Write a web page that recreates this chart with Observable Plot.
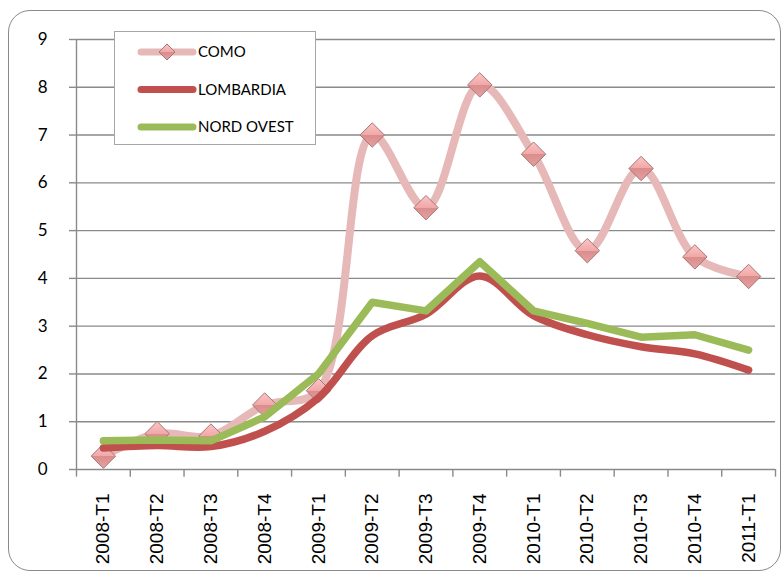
<!DOCTYPE html>
<html>
<head>
<meta charset="utf-8">
<script src="https://cdn.jsdelivr.net/npm/d3@7"></script>
<script src="https://cdn.jsdelivr.net/npm/@observablehq/plot@0.6"></script>
<style>
  html, body { margin: 0; padding: 0; background: #fff; overflow: hidden; }
  #wrap { position: relative; width: 784px; height: 573px; }
  #frame { position: absolute; left: 8px; top: 10px; width: 773px; height: 561px;
           border: 1.5px solid #8a8a8a; border-radius: 22px; box-sizing: border-box; pointer-events: none; }
  #chart { position: absolute; left: 0; top: 0; }
  #chart g[aria-label="x-axis tick label"] text { font-family: 'Liberation Sans', Arial, sans-serif; }
  #legend { position: absolute; left: 114px; top: 31px; width: 202px; height: 114px;
            background: #fff; border: 1px solid #a6a6a6; box-sizing: border-box; }
</style>
</head>
<body>
<svg width="0" height="0" style="position:absolute">
  <defs>
    <linearGradient id="dg" x1="0" y1="0" x2="0" y2="1">
      <stop offset="0" stop-color="#fbc6c6"/>
      <stop offset="0.5" stop-color="#f1a7a7"/>
      <stop offset="0.5" stop-color="#d98d8d"/>
      <stop offset="1" stop-color="#e8a0a0"/>
    </linearGradient>
  </defs>
</svg>
<div id="wrap">
  <div id="chart"></div>
  <div id="frame"></div>
  <div id="legend"></div>
</div>
<script>
const categories = ["2008-T1","2008-T2","2008-T3","2008-T4","2009-T1","2009-T2","2009-T3","2009-T4","2010-T1","2010-T2","2010-T3","2010-T4","2011-T1"];
const como      = [0.28, 0.75, 0.7, 1.35, 1.65, 7.0, 5.48, 8.05, 6.6, 4.58, 6.3, 4.45, 4.04];
const lombardia = [0.45, 0.5, 0.48, 0.8, 1.5, 2.8, 3.25, 4.05, 3.22, 2.82, 2.57, 2.42, 2.08];
const nordOvest = [0.6, 0.62, 0.6, 1.1, 2.0, 3.5, 3.32, 4.35, 3.32, 3.06, 2.77, 2.82, 2.5];
const yTicks = [0,1,2,3,4,5,6,7,8,9];
const seriesNames = ["COMO","LOMBARDIA","NORD OVEST"];

const idx = categories.map((_, i) => i);
const bounds = d3.range(categories.length + 1).map(i => i - 0.5);
const rowsComo = idx.map(i => ({i, v: como[i]}));
const rowsLomb = idx.map(i => ({i, v: lombardia[i]}));
const rowsNord = idx.map(i => ({i, v: nordOvest[i]}));

const grid = "#8a8a8a";
const plot = Plot.plot({
  width: 784,
  height: 573,
  marginLeft: 76,
  marginRight: 9,
  marginTop: 39,
  marginBottom: 104,
  style: {fontFamily: "Lato, 'Liberation Sans', sans-serif", background: "transparent", overflow: "visible"},
  x: {type: "linear", domain: [-0.5, categories.length - 0.5]},
  y: {type: "linear", domain: [0, 9]},
  marks: [
    Plot.gridY({ticks: yTicks, stroke: grid, strokeOpacity: 1, strokeWidth: 1.4}),
    Plot.ruleX([-0.5], {y1: 0, y2: 9, stroke: grid, strokeWidth: 1.4}),
    Plot.ruleX(bounds, {y1: 0, y2: -0.16, stroke: grid, strokeWidth: 1.4}),
    Plot.axisY({ticks: yTicks, tickSize: 7, tickPadding: 22, fontSize: 17, stroke: grid, strokeWidth: 1.4, color: "#000", label: null}),
    Plot.axisX({ticks: idx, tickFormat: i => categories[i], tickRotate: -90, tickSize: 0, tickPadding: 24,
                fontSize: 19, label: null, color: "#000"}),
    Plot.line(rowsComo, {x: "i", y: "v", stroke: "#e6b9b8", strokeWidth: 8, curve: "catmull-rom", strokeLinecap: "round", strokeLinejoin: "round"}),
    Plot.dot(rowsComo, {x: "i", y: "v", symbol: "diamond2", r: 11, fill: "url(#dg)", stroke: "#a87474", strokeWidth: 1}),
    Plot.line(rowsLomb, {x: "i", y: "v", stroke: "#c0504d", strokeWidth: 7.5, curve: "catmull-rom", strokeLinecap: "round", strokeLinejoin: "round"}),
    Plot.line(rowsNord, {x: "i", y: "v", stroke: "#9bbb59", strokeWidth: 7.5, strokeLinecap: "round", strokeLinejoin: "round"})
  ]
});
document.getElementById("chart").appendChild(plot);

// legend
const lg = d3.select("#legend").append("svg").attr("width", 200).attr("height", 112)
  .style("font-family", "Lato, sans-serif").style("font-size", "15px");
const legendItems = [
  {name: seriesNames[0], color: "#e6b9b8", marker: true},
  {name: seriesNames[1], color: "#c0504d", marker: false},
  {name: seriesNames[2], color: "#9bbb59", marker: false}
];
legendItems.forEach((d, k) => {
  const y = 20 + k * 37.5;
  lg.append("line").attr("x1", 26).attr("x2", 78).attr("y1", y).attr("y2", y)
    .attr("stroke", d.color).attr("stroke-width", 7).attr("stroke-linecap", "round");
  if (d.marker) {
    const s = 8;
    lg.append("path").attr("d", `M52,${y - s}L${52 + s},${y}L52,${y + s}L${52 - s},${y}Z`)
      .attr("fill", "url(#dg)").attr("stroke", "#a87474").attr("stroke-width", 1);
  }
  lg.append("text").attr("x", 83).attr("y", y).attr("dy", "0.36em").attr("fill", "#000").text(d.name);
});
</script>
</body>
</html>
